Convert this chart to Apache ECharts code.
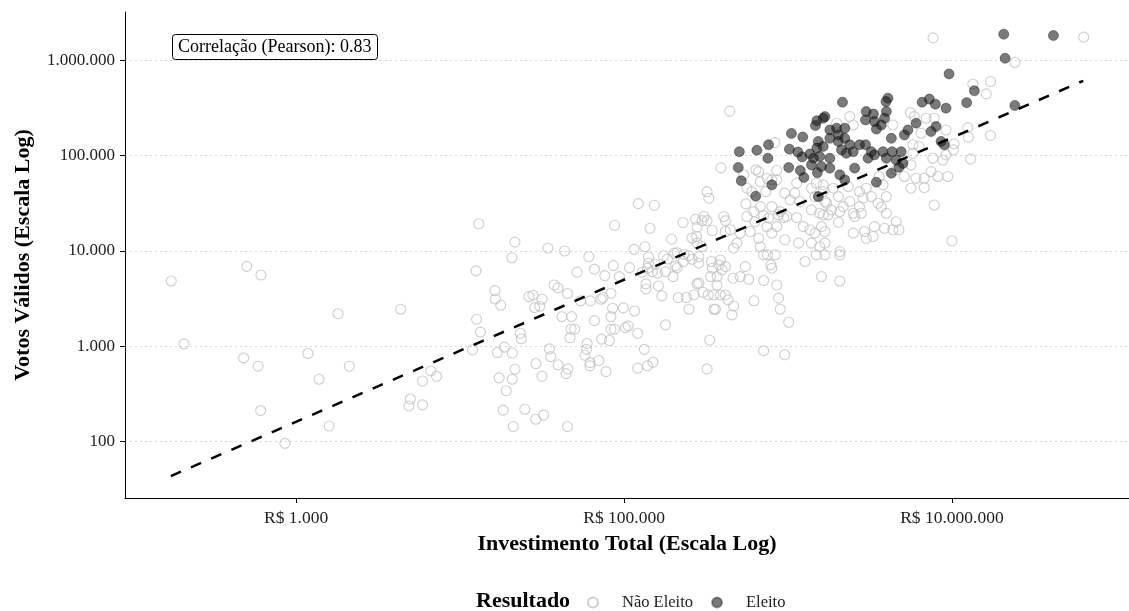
<!DOCTYPE html>
<html>
<head>
<meta charset="utf-8">
<title>Investimento x Votos</title>
<script src="https://cdn.jsdelivr.net/npm/echarts@6/dist/echarts.min.js"></script>
<style>
  html, body { margin: 0; padding: 0; background: #fff; }
  #chart { width: 1129px; height: 611px; }
</style>
</head>
<body>
<div id="chart"></div>
<script>
// valores: [investimento total (R$), votos validos]
const naoEleito = [
  [173, 4850], [500, 6900], [610, 5600], [1800, 2200], [4340, 2450], [207, 1060], [478, 756], [586, 619],
  [1180, 840], [1380, 452], [2110, 619], [607, 212], [1590, 146], [854, 96], [4970, 280], [4870, 237],
  [5900, 433], [5900, 243], [13000, 19300], [21600, 12400], [20700, 8500], [34300, 10700], [43400, 10000],
  [61000, 8700], [66000, 6450], [51700, 6000], [12500, 6190], [16300, 3840], [16400, 3140], [17700, 2700],
  [26300, 3320], [27800, 3440], [31600, 3120], [28500, 2550], [30600, 2630], [37500, 4400], [39500, 4100],
  [45200, 3580], [54300, 3000], [62400, 3000], [41800, 2050], [47800, 2050], [66000, 1860], [47500, 1520],
  [50000, 1520], [46800, 1230], [12600, 1920], [13300, 1410], [23300, 1370], [23600, 1200], [59500, 1070],
  [59000, 930], [57800, 805], [62000, 675], [62000, 623], [11900, 920], [16900, 860], [18600, 980],
  [20800, 850], [35000, 940], [35700, 780], [29000, 660], [39600, 640], [45400, 580], [44300, 517],
  [31600, 485], [21600, 575], [20800, 452], [17300, 467], [19100, 342], [6630, 552], [7180, 485],
  [18300, 214], [24800, 219], [28900, 172], [32300, 190], [21100, 144], [45200, 144],
  [321000, 42000], [329000, 35800], [122000, 31400], [153000, 30200], [87600, 18600], [144000, 17300],
  [229000, 19900], [273000, 21500], [299000, 20800], [321000, 20800], [279000, 17800], [345000, 16400],
  [277000, 14200], [260000, 13700], [195000, 13300], [115000, 10400], [134000, 11100], [86000, 7030],
  [76300, 5520], [93600, 5390], [108000, 6700], [141000, 8600], [141000, 7450], [155000, 7270],
  [174000, 8900], [184000, 8250], [202000, 9500], [211000, 9600], [232000, 9250], [249000, 8900],
  [260000, 8200], [286000, 8700], [286000, 7450], [341000, 7750], [139000, 6600], [149000, 6080],
  [160000, 5850], [179000, 6080], [206000, 6980], [211000, 6700], [230000, 7750], [199000, 5390],
  [129000, 6000], [136000, 4520], [136000, 4000], [162000, 4300], [170000, 3380], [214000, 3250],
  [240000, 3250], [249000, 2450], [279000, 4520], [267000, 3460], [303000, 3690], [326000, 3460],
  [353000, 3460], [337000, 5390], [353000, 2450], [72300, 3120], [74400, 3250], [83200, 3600],
  [85100, 2510], [99000, 2530], [116000, 2350], [83200, 2050], [83200, 1510], [87300, 1510],
  [102000, 1570], [106000, 1640], [121000, 1370], [179000, 1680], [73000, 1190], [81400, 1150],
  [70000, 710], [77600, 543], [133000, 930], [121000, 590], [139000, 623], [150000, 680],
  [333000, 1160], [321000, 580],
  [441000, 293000], [832000, 137000], [390000, 74500], [637000, 71000], [662000, 68000], [854000, 69800],
  [537000, 63000], [744000, 58000], [854000, 55700], [677000, 53000], [797000, 55700], [562000, 45600],
  [602000, 42000], [733000, 42000], [955000, 40500], [1100000, 40500], [1130000, 51500], [1390000, 45600],
  [1640000, 49400], [1460000, 37200], [1030000, 34400], [1180000, 33000], [554000, 31200], [677000, 29200],
  [618000, 25900], [797000, 29200], [896000, 25900], [406000, 23000], [307000, 23000], [980000, 23000],
  [1390000, 27000], [1560000, 24900], [1680000, 33000], [562000, 23000], [630000, 20300], [710000, 23500],
  [761000, 22100], [876000, 23900], [942000, 22400], [1130000, 22400], [415000, 20800], [415000, 16000],
  [445000, 16700], [511000, 15400], [588000, 16000], [662000, 13600], [744000, 18000], [797000, 15400],
  [854000, 18000], [955000, 13100], [1240000, 18000], [1360000, 16700], [1460000, 15400], [1600000, 18000],
  [1390000, 12100], [1560000, 11100], [1680000, 12100], [1490000, 9100], [1270000, 7750], [1160000, 12100],
  [279000, 12100], [299000, 11100], [387000, 8050], [378000, 7150], [415000, 6850], [396000, 6330],
  [345000, 6600], [369000, 5390], [462000, 5180], [511000, 5390], [576000, 5050], [549000, 6850],
  [466000, 10700], [489000, 12100], [677000, 11100], [710000, 9100], [750000, 9100], [835000, 9100],
  [786000, 7150], [797000, 6600], [710000, 4900], [854000, 4400], [286000, 4600], [369000, 4400],
  [387000, 3460], [415000, 3460], [431000, 3070], [466000, 2650], [361000, 2450], [455000, 2140],
  [620000, 3010], [876000, 3200], [896000, 2450], [1010000, 1790], [1600000, 5390], [710000, 900],
  [955000, 815],
  [2380000, 257000], [2500000, 210000], [1980000, 219000], [5580000, 283000], [5900000, 257000],
  [4360000, 210000], [6960000, 247000], [7800000, 247000], [6490000, 172000], [5780000, 130000],
  [6300000, 125000], [5780000, 106000], [5630000, 80000], [6040000, 58000], [6780000, 58000],
  [5130000, 60500], [5630000, 45600], [6780000, 46300], [7650000, 94000], [8800000, 90000],
  [7460000, 68000], [8200000, 60500], [9420000, 60500], [7800000, 30400], [4570000, 71000],
  [3600000, 60500], [3800000, 49400], [3000000, 45600], [2870000, 35800], [3980000, 37200],
  [3540000, 31700], [3980000, 24900], [2730000, 29200], [2380000, 33000], [2030000, 37200],
  [2170000, 29200], [1720000, 31700], [1840000, 27000], [2500000, 24900], [1640000, 42000],
  [1490000, 51500], [1890000, 45600], [2330000, 47300], [2730000, 42000], [3220000, 37200],
  [3710000, 28900], [2070000, 25900], [1640000, 23900], [1760000, 23900], [2030000, 20000],
  [2800000, 24900], [2550000, 23000], [2500000, 15400], [2930000, 16000], [3000000, 13600],
  [3300000, 14200], [3370000, 18000], [3880000, 17300], [4360000, 16700], [4750000, 16700],
  [4570000, 20300], [1680000, 16000], [1680000, 9100], [2070000, 9850], [2070000, 9100],
  [2070000, 4850], [10000000, 12800],
  [63600000, 1750000], [24200000, 950000], [13400000, 562000], [17200000, 600000], [16200000, 445000],
  [9200000, 186000], [12500000, 197000], [12600000, 156000], [17200000, 163000], [10300000, 133000],
  [10200000, 115000], [9200000, 102000], [13000000, 92000], [7670000, 1720000]
];

const eleito = [
  [1500000, 232000], [1470000, 207000], [1640000, 247000], [1050000, 171000], [1230000, 157000],
  [761000, 130000], [646000, 114000], [505000, 110000], [754000, 94000], [1020000, 117000],
  [1150000, 109000], [1220000, 97000], [1360000, 104000], [1430000, 94000], [1530000, 141000],
  [1500000, 120000], [1390000, 80000], [1560000, 98000], [497000, 75000], [519000, 54500],
  [1010000, 75000], [1190000, 69800], [1250000, 59000], [797000, 49400], [635000, 37600],
  [1510000, 66400], [9600000, 720000], [4070000, 401000], [3960000, 369000], [2150000, 364000],
  [6580000, 364000], [7280000, 392000], [7920000, 347000], [9200000, 315000], [3000000, 290000],
  [3320000, 273000], [3980000, 290000], [2970000, 237000], [3370000, 228000], [3880000, 247000],
  [3710000, 210000], [3460000, 190000], [6040000, 219000], [5390000, 186000], [5130000, 165000],
  [4270000, 152000], [8000000, 202000], [7460000, 179000], [8980000, 130000], [8580000, 141000],
  [1680000, 257000], [1800000, 186000], [1980000, 194000], [2220000, 194000], [1800000, 152000],
  [2030000, 165000], [2030000, 141000], [2220000, 152000], [2380000, 130000], [2730000, 130000],
  [2970000, 130000], [1640000, 125000], [2120000, 115000], [2270000, 106000], [2500000, 110000],
  [3220000, 110000], [3370000, 102000], [3080000, 94000], [3800000, 110000], [4320000, 110000],
  [4900000, 110000], [3980000, 94000], [4570000, 90000], [5030000, 83000], [4750000, 75500],
  [4270000, 65500], [3460000, 52700], [1800000, 94000], [1600000, 77000], [1800000, 74000],
  [2070000, 63000], [2220000, 55700], [2550000, 74000], [1530000, 37200], [20700000, 1880000],
  [41600000, 1820000], [21100000, 1050000], [13700000, 479000], [12300000, 360000], [24200000, 336000]
];

// reta de tendencia (regressao em escala log), pontas
const tendenciaInvest = [172, 63200000];
const tendenciaVotos = [43.6, 610000];

const ticksInvest = [1000, 100000, 10000000];
const ticksVotos = [100, 1000, 10000, 100000, 1000000];
const correlacao = 0.83;

const fonte = "'Liberation Serif', 'Times New Roman', serif";

function milhar(n) {
  return String(Math.round(n)).replace(/\B(?=(\d{3})+(?!\d))/g, '.');
}
function emLog(lista) {
  return lista.map(p => [Math.log10(p[0]), Math.log10(p[1])]);
}

const chart = echarts.init(document.getElementById('chart'));

const option = {
  animation: false,
  backgroundColor: '#fff',
  textStyle: { fontFamily: fonte },
  title: [
    {
      text: 'Correlação (Pearson): ' + correlacao.toFixed(2),
      left: 172, top: 34,
      padding: [4, 6],
      borderColor: '#000', borderWidth: 1, borderRadius: 3,
      backgroundColor: '#fff',
      textStyle: { fontFamily: fonte, fontSize: 18, fontWeight: 'normal', color: '#000' }
    },
    {
      text: 'Resultado',
      left: 476, top: 590, padding: 0,
      textStyle: { fontFamily: fonte, fontSize: 22, fontWeight: 'bold', color: '#000' }
    }
  ],
  legend: {
    left: 587, top: 594, padding: 0,
    itemGap: 18, itemWidth: 48, itemHeight: 10,
    data: [{ name: 'Não Eleito', icon: 'circle' }, { name: 'Eleito', icon: 'circle' }],
    textStyle: { fontFamily: fonte, fontSize: 16.5, color: '#222' }
  },
  grid: { left: 125, top: 12, width: 1009, height: 486, containLabel: false },
  xAxis: {
    type: 'value',
    min: 1.956, max: 8.08,
    name: 'Investimento Total (Escala Log)',
    nameLocation: 'middle', nameGap: 35,
    nameTextStyle: { fontFamily: fonte, fontSize: 22, fontWeight: 'bold', color: '#000' },
    axisLine: { show: true, onZero: false, lineStyle: { color: '#000', width: 1 } },
    axisTick: { show: true, length: 5, customValues: ticksInvest.map(Math.log10), lineStyle: { color: '#000' } },
    axisLabel: {
      customValues: ticksInvest.map(Math.log10),
      formatter: v => 'R$ ' + milhar(Math.pow(10, v)),
      margin: 11, fontSize: 17.5, color: '#222', fontFamily: fonte
    },
    splitLine: { show: false }
  },
  yAxis: {
    type: 'value',
    min: 1.409, max: 6.507,
    name: 'Votos Válidos (Escala Log)',
    nameLocation: 'middle', nameRotate: 90, nameGap: 91,
    nameTextStyle: { fontFamily: fonte, fontSize: 22, fontWeight: 'bold', color: '#000' },
    axisLine: { show: true, onZero: false, lineStyle: { color: '#000', width: 1 } },
    axisTick: { show: true, length: 5, customValues: ticksVotos.map(Math.log10), lineStyle: { color: '#000' } },
    axisLabel: {
      customValues: ticksVotos.map(Math.log10),
      formatter: v => milhar(Math.pow(10, v)),
      margin: 10, fontSize: 17, color: '#222', fontFamily: fonte
    },
    splitLine: { show: true, lineStyle: { color: '#d6d6d6', width: 1, type: [2, 3] } }
  },
  series: [
    {
      name: 'Não Eleito', type: 'scatter',
      data: emLog(naoEleito),
      symbol: 'circle', symbolSize: 10,
      itemStyle: { color: 'rgba(255,255,255,0)', borderColor: '#c0c0c0', borderWidth: 1.1 },
      emphasis: { disabled: true },
      z: 2
    },
    {
      name: 'Eleito', type: 'scatter',
      data: emLog(eleito),
      symbol: 'circle', symbolSize: 10,
      itemStyle: { color: 'rgba(25,25,25,0.72)', borderColor: 'rgba(0,0,0,0.45)', borderWidth: 1 },
      emphasis: { disabled: true },
      z: 3
    },
    {
      name: 'Tendência', type: 'line',
      data: tendenciaInvest.map((x, i) => [Math.log10(x), Math.log10(tendenciaVotos[i])]),
      symbol: 'none', silent: true,
      lineStyle: { color: '#000', width: 2.5, type: [11, 11] },
      z: 4
    }
  ]
};

chart.setOption(option);
</script>
</body>
</html>
